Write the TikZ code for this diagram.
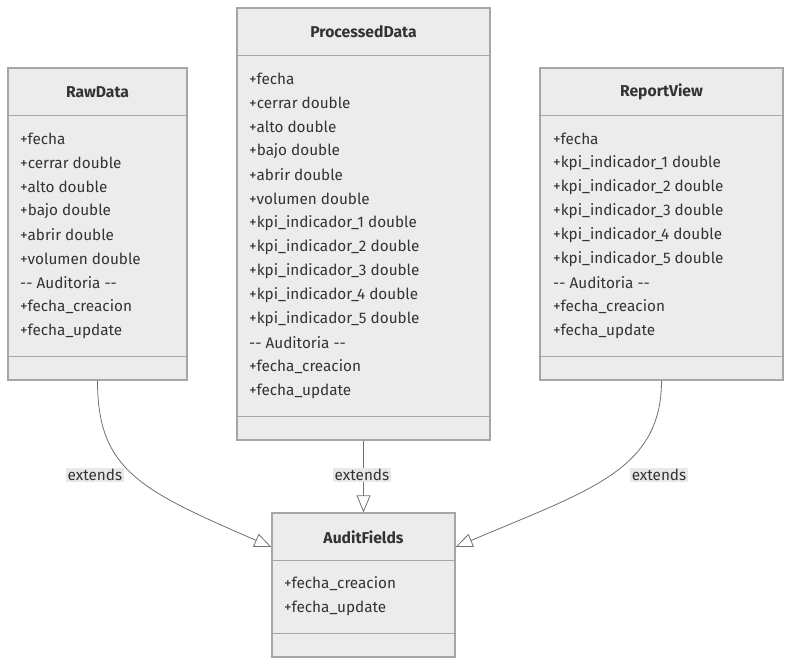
\documentclass[tikz,border=0pt]{standalone}
\usepackage{fontspec}
\setmainfont{Fira Sans}
\usetikzlibrary{arrows.meta,positioning}
\definecolor{boxfill}{HTML}{ECECEC}
\definecolor{boxline}{HTML}{A6A6A6}
\definecolor{edgeline}{HTML}{707070}
\definecolor{txtcol}{HTML}{333333}
\definecolor{lblfill}{HTML}{E8E8E8}

\begin{document}
\begin{tikzpicture}[x=1pt,y=-1pt,
                    classbox/.style={draw=boxline,fill=boxfill,line width=1.2pt,
                    inner sep=0pt},
                    sepline/.style={draw=boxline,line width=1.2pt},
                    classname/.style={font=\bfseries\fontsize{15.7}{17}\selectfont,
                    text=txtcol},
                    attr/.style={anchor=west,inner sep=0pt,text=txtcol,
                    font=\fontsize{15.3}{17}\selectfont},
                    extends/.style={draw=edgeline,line width=0.8pt,
                    -{Triangle[open,length=17pt,width=14pt]}},
                    lbl/.style={fill=lblfill,inner sep=1.5pt,text=txtcol,
                    font=\fontsize{15.3}{17}\selectfont}]
  \useasboundingbox (0,0) rectangle (792,665);

  % class boxes
  \node[classbox, minimum width=179pt, minimum height=312pt] (raw) at (97.5,224) {};
  \node[classbox, minimum width=253pt, minimum height=432pt] (proc) at (363.5,224) {};
  \node[classbox, minimum width=243pt, minimum height=312pt] (rep) at (661.5,224) {};
  \node[classbox, minimum width=183pt, minimum height=144pt] (audit) at (363.5,585) {};

  % compartments
  \foreach \c in {raw,proc,rep,audit} {
    \draw[sepline] ([yshift=-48pt]\c.north west) -- ([yshift=-48pt]\c.north east);
    \draw[sepline] ([yshift=24pt]\c.south west) -- ([yshift=24pt]\c.south east);
  }

  % names
  \node[classname] (rawname) at (97.5,92) {RawData};
  \node[classname] (procname) at (363.5,32) {ProcessedData};
  \node[classname] (repname) at (661.5,92) {ReportView};
  \node[classname] (auditname) at (363.5,537) {AuditFields};

  % attributes
  \foreach \t [count=\k] in {+fecha, +cerrar double, +alto double, +bajo double,
      +abrir double, +volumen double, -{}- Auditoria -{}-, +fecha\_creacion,
      +fecha\_update}
    \node[attr] (rawattr\k) at (20,115+24*\k) {\t};
  \foreach \t [count=\k] in {+fecha, +cerrar double, +alto double, +bajo double,
      +abrir double, +volumen double, +kpi\_indicador\_1 double,
      +kpi\_indicador\_2 double, +kpi\_indicador\_3 double,
      +kpi\_indicador\_4 double, +kpi\_indicador\_5 double,
      -{}- Auditoria -{}-, +fecha\_creacion, +fecha\_update}
    \node[attr] (procattr\k) at (249,55+24*\k) {\t};
  \foreach \t [count=\k] in {+fecha, +kpi\_indicador\_1 double,
      +kpi\_indicador\_2 double, +kpi\_indicador\_3 double,
      +kpi\_indicador\_4 double, +kpi\_indicador\_5 double,
      -{}- Auditoria -{}-, +fecha\_creacion, +fecha\_update}
    \node[attr] (repattr\k) at (553,115+24*\k) {\t};
  \foreach \t [count=\k] in {+fecha\_creacion, +fecha\_update}
    \node[attr] (auditattr\k) at (284,560+24*\k) {\t};

  % inheritance
  \draw[extends] (raw.south) .. controls (97.5,470) and (140,490)
    .. ([yshift=38pt]audit.west);
  \draw[extends] (proc.south) -- (audit.north);
  \draw[extends] (rep.south) .. controls (661.5,470) and (590,490)
    .. ([yshift=38pt]audit.east);

  \node[lbl] (rawext) at (95,475) {extends};
  \node[lbl] (procext) at (362,475) {extends};
  \node[lbl] (repext) at (659,475) {extends};
\end{tikzpicture}
\end{document}
